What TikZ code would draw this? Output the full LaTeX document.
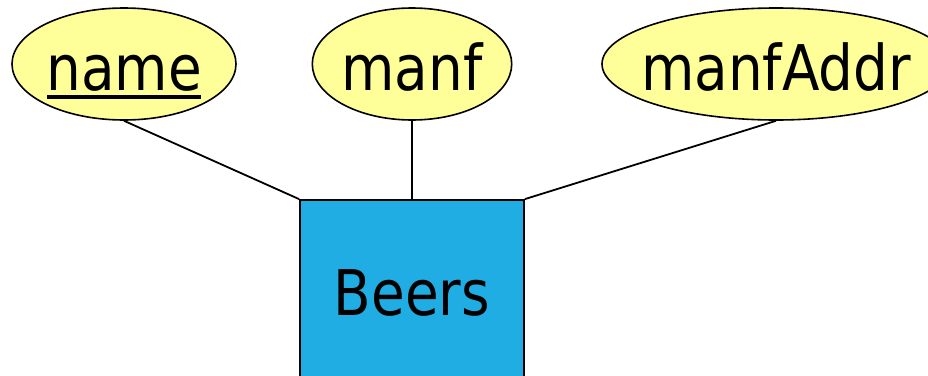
\documentclass[tikz,border=0pt]{standalone}
\usepackage{fontspec}
\setmainfont[FakeStretch=0.87]{DejaVu Sans}
\usetikzlibrary{shapes.geometric}
\definecolor{attrfill}{HTML}{FFFF99}
\definecolor{entfill}{HTML}{1FADE4}
\tikzset{
  attr/.style={ellipse, draw=black, line width=1.6pt, fill=attrfill, inner sep=0pt,
    minimum height=112pt, text height=60pt, text depth=8pt,
    font=\fontsize{63}{70}\selectfont},
  entity/.style={rectangle, draw=black, line width=1.8pt, fill=entfill, inner sep=0pt,
    minimum width=224pt, minimum height=230pt, text height=47pt, text depth=47pt,
    font=\fontsize{63}{70}\selectfont},
  conn/.style={draw=black, line width=1.8pt}
}
\begin{document}
\begin{tikzpicture}[x=1pt,y=-1pt]
\useasboundingbox (0,0) rectangle (928,375);
\clip (0,0) rectangle (928,375);
\node[attr, minimum width=224pt] (nm) at (124,64) {name};
\draw[line width=4.5pt] ([xshift=-77pt,yshift=-7pt]nm.base) -- ([xshift=77pt,yshift=-7pt]nm.base);
\node[attr, minimum width=192pt] (mf) at (412,64) {manf};
\node[attr, minimum width=348pt, inner xsep=-20pt] (ma) at (776,64) {manfAddr};
\node[entity] (be) at (412,315) {Beers};
\draw[conn] (nm.south) -- (be.north west);
\draw[conn] (mf.south) -- (be.north);
\draw[conn] (ma.south) -- (be.north east);
\end{tikzpicture}
\end{document}
